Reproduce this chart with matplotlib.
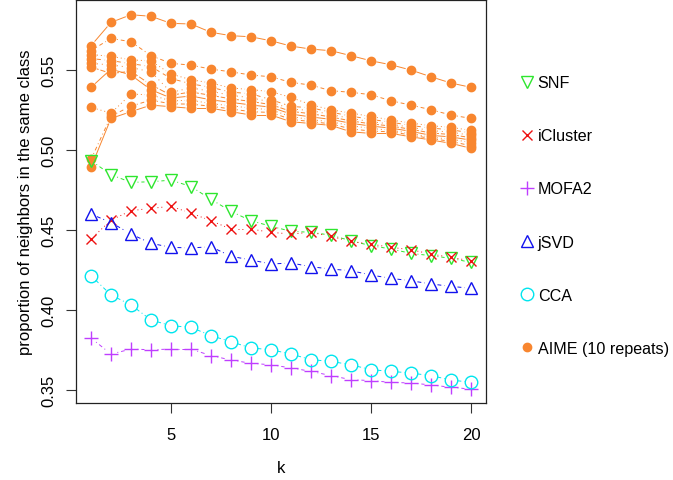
import numpy as np
import matplotlib
matplotlib.use("Agg")
import matplotlib.pyplot as plt
from matplotlib.lines import Line2D
from matplotlib.ticker import FormatStrFormatter

plt.rcParams['font.family'] = ['Liberation Sans', 'DejaVu Sans']

k = list(range(1, 21))

snf = [0.4932, 0.4844, 0.4796, 0.4800, 0.4810, 0.4770, 0.4690, 0.4615, 0.4556, 0.4522,
       0.4490, 0.4484, 0.4466, 0.4431, 0.4400, 0.4380, 0.4352, 0.4338, 0.4321, 0.4296]
icluster = [0.4442, 0.4560, 0.4619, 0.4634, 0.4646, 0.4604, 0.4556, 0.4504, 0.4504, 0.4484,
            0.4473, 0.4484, 0.4458, 0.4427, 0.4410, 0.4390, 0.4375, 0.4348, 0.4327, 0.4306]
mofa2 = [0.3823, 0.3723, 0.3754, 0.3750, 0.3754, 0.3754, 0.3713, 0.3686, 0.3665, 0.3656,
         0.3636, 0.3615, 0.3588, 0.3563, 0.3557, 0.3546, 0.3542, 0.3530, 0.3515, 0.3504]
jsvd = [0.4598, 0.4545, 0.4473, 0.4415, 0.4390, 0.4386, 0.4394, 0.4334, 0.4311, 0.4286,
        0.4292, 0.4269, 0.4254, 0.4244, 0.4217, 0.4196, 0.4181, 0.4161, 0.4146, 0.4134]
cca = [0.4213, 0.4092, 0.4030, 0.3936, 0.3900, 0.3890, 0.3838, 0.3800, 0.3761, 0.3750,
       0.3723, 0.3688, 0.3677, 0.3656, 0.3625, 0.3615, 0.3604, 0.3588, 0.3561, 0.3546]

aime_1 = [0.5650, 0.5796, 0.5844, 0.5834, 0.5790, 0.5786, 0.5734, 0.5713, 0.5706, 0.5681,
          0.5648, 0.5629, 0.5619, 0.5588, 0.5556, 0.5531, 0.5498, 0.5456, 0.5417, 0.5390]
aime_2 = [0.5620, 0.5696, 0.5675, 0.5588, 0.5540, 0.5529, 0.5504, 0.5487, 0.5467, 0.5456,
          0.5421, 0.5404, 0.5369, 0.5359, 0.5344, 0.5306, 0.5279, 0.5250, 0.5217, 0.5196]
aime_3 = [0.5595, 0.5584, 0.5562, 0.5555, 0.5473, 0.5438, 0.5417, 0.5386, 0.5376, 0.5363,
          0.5327, 0.5281, 0.5250, 0.5229, 0.5208, 0.5186, 0.5167, 0.5150, 0.5140, 0.5121]
aime_4 = [0.5570, 0.5557, 0.5538, 0.5520, 0.5445, 0.5412, 0.5390, 0.5360, 0.5350, 0.5313,
          0.5271, 0.5262, 0.5235, 0.5210, 0.5190, 0.5172, 0.5152, 0.5135, 0.5125, 0.5105]
aime_5 = [0.5540, 0.5530, 0.5514, 0.5487, 0.5359, 0.5387, 0.5365, 0.5340, 0.5325, 0.5298,
          0.5255, 0.5245, 0.5220, 0.5195, 0.5176, 0.5160, 0.5140, 0.5120, 0.5110, 0.5090]
aime_6 = [0.5517, 0.5477, 0.5490, 0.5406, 0.5341, 0.5361, 0.5340, 0.5318, 0.5302, 0.5282,
          0.5240, 0.5225, 0.5205, 0.5180, 0.5162, 0.5148, 0.5128, 0.5105, 0.5095, 0.5075]
aime_7 = [0.5390, 0.5504, 0.5467, 0.5375, 0.5323, 0.5336, 0.5312, 0.5296, 0.5280, 0.5266,
          0.5223, 0.5205, 0.5190, 0.5165, 0.5148, 0.5135, 0.5115, 0.5090, 0.5080, 0.5060]
aime_8 = [0.5265, 0.5229, 0.5348, 0.5343, 0.5305, 0.5310, 0.5288, 0.5275, 0.5260, 0.5250,
          0.5207, 0.5188, 0.5175, 0.5150, 0.5133, 0.5122, 0.5102, 0.5078, 0.5066, 0.5045]
aime_9 = [0.4940, 0.5210, 0.5273, 0.5310, 0.5287, 0.5285, 0.5272, 0.5255, 0.5238, 0.5233,
          0.5190, 0.5176, 0.5162, 0.5130, 0.5117, 0.5112, 0.5092, 0.5070, 0.5052, 0.5025]
aime_10 = [0.4890, 0.5196, 0.5238, 0.5279, 0.5269, 0.5259, 0.5259, 0.5238, 0.5217, 0.5217,
           0.5175, 0.5164, 0.5152, 0.5112, 0.5102, 0.5102, 0.5081, 0.5061, 0.5040, 0.5009]
aime = [aime_1, aime_2, aime_3, aime_4, aime_5, aime_6, aime_7, aime_8, aime_9, aime_10]

labels = ["SNF", "iCluster", "MOFA2", "jSVD", "CCA", "AIME (10 repeats)"]

C_SNF = '#2EE62E'
C_ICL = '#EE1111'
C_MOFA = '#BF3EFF'
C_JSVD = '#1111EE'
C_CCA = '#00E5EE'
C_AIME = '#F8862F'

fig = plt.figure(figsize=(6.73, 4.81), dpi=100)
ax = fig.add_axes([76/673, 1 - 404/481, (486-76)/673, (404-1)/481])
ax.set_xlim(0.25, 20.75)
ax.set_ylim(0.3417, 0.5936)

LW = 0.7
aime_styles = ['-', (0, (1, 3, 4, 3)), (0, (1, 3)), (0, (4, 4)), (0, (1, 4)),
               (0, (2, 2, 6, 2)), '-', (0, (1, 3)), (0, (1, 3, 4, 3)), '-']


def draw_b(xs, ys, color, ls, gap_px, z):
    pts = ax.transData.transform(np.column_stack([xs, ys]))
    inv = ax.transData.inverted()
    for i in range(len(xs) - 1):
        p0, p1 = pts[i], pts[i + 1]
        d = p1 - p0
        L = np.hypot(d[0], d[1])
        if L <= 2 * gap_px:
            continue
        u = d / L
        a = inv.transform(p0 + u * gap_px)
        b = inv.transform(p1 - u * gap_px)
        ax.add_line(Line2D([a[0], b[0]], [a[1], b[1]], color=color, ls=ls, lw=LW, zorder=z))


# AIME repeats first
for i, s in enumerate(aime):
    draw_b(k, s, C_AIME, aime_styles[i], 6.0, 1)
    ax.plot(k, s, ls='none', marker='o', ms=6, color=C_AIME, mec=C_AIME, zorder=2)

series = [
    (snf, C_SNF, 'v', 9, (0, (1, 3, 4, 3))),
    (icluster, C_ICL, 'x', 7, (0, (1, 3))),
    (mofa2, C_MOFA, '+', 9.5, (0, (1, 3, 4, 3))),
    (jsvd, C_JSVD, '^', 9, (0, (4, 3, 1, 3))),
    (cca, C_CCA, 'o', 9, (0, (4, 3, 1, 3))),
]
for j, (s, c, m, ms, ls) in enumerate(series):
    draw_b(k, s, c, ls, 6.5, 3 + j)
    ax.plot(k, s, ls='none', marker=m, ms=ms, color=c, mfc='none', mec=c, mew=1.0, zorder=3 + j)

ax.set_xticks([5, 10, 15, 20])
ax.set_yticks([0.35, 0.40, 0.45, 0.50, 0.55])
ax.yaxis.set_major_formatter(FormatStrFormatter('%.2f'))
ax.tick_params(axis='both', direction='out', length=7.2, width=0.8, color='#333333', labelsize=12)
ax.tick_params(axis='x', pad=10)
ax.tick_params(axis='y', pad=7)
for lab in ax.get_yticklabels():
    lab.set_rotation(90)
    lab.set_va('center')
for sp in ax.spines.values():
    sp.set_linewidth(0.9)
    sp.set_color('#222222')

ax.set_xlabel('k', fontsize=12, labelpad=13)
ax.set_ylabel('proportion of neighbors in the same class', fontsize=12, labelpad=6)

handles = [
    Line2D([], [], ls='none', marker='v', ms=9, color=C_SNF, mfc='none', mew=1.0),
    Line2D([], [], ls='none', marker='x', ms=7, color=C_ICL, mew=1.0),
    Line2D([], [], ls='none', marker='+', ms=9.5, color=C_MOFA, mew=1.0),
    Line2D([], [], ls='none', marker='^', ms=9, color=C_JSVD, mfc='none', mew=1.0),
    Line2D([], [], ls='none', marker='o', ms=9, color=C_CCA, mfc='none', mew=1.0),
    Line2D([], [], ls='none', marker='o', ms=6, color=C_AIME),
]
fig.legend(handles, labels, loc='center left', bbox_to_anchor=(520/673, 1 - 216.5/481),
           frameon=False, fontsize=11.6, handlelength=0.9, handletextpad=0.2,
           labelspacing=2.36, borderaxespad=0, borderpad=0)

fig.savefig('out.png', dpi=100)
